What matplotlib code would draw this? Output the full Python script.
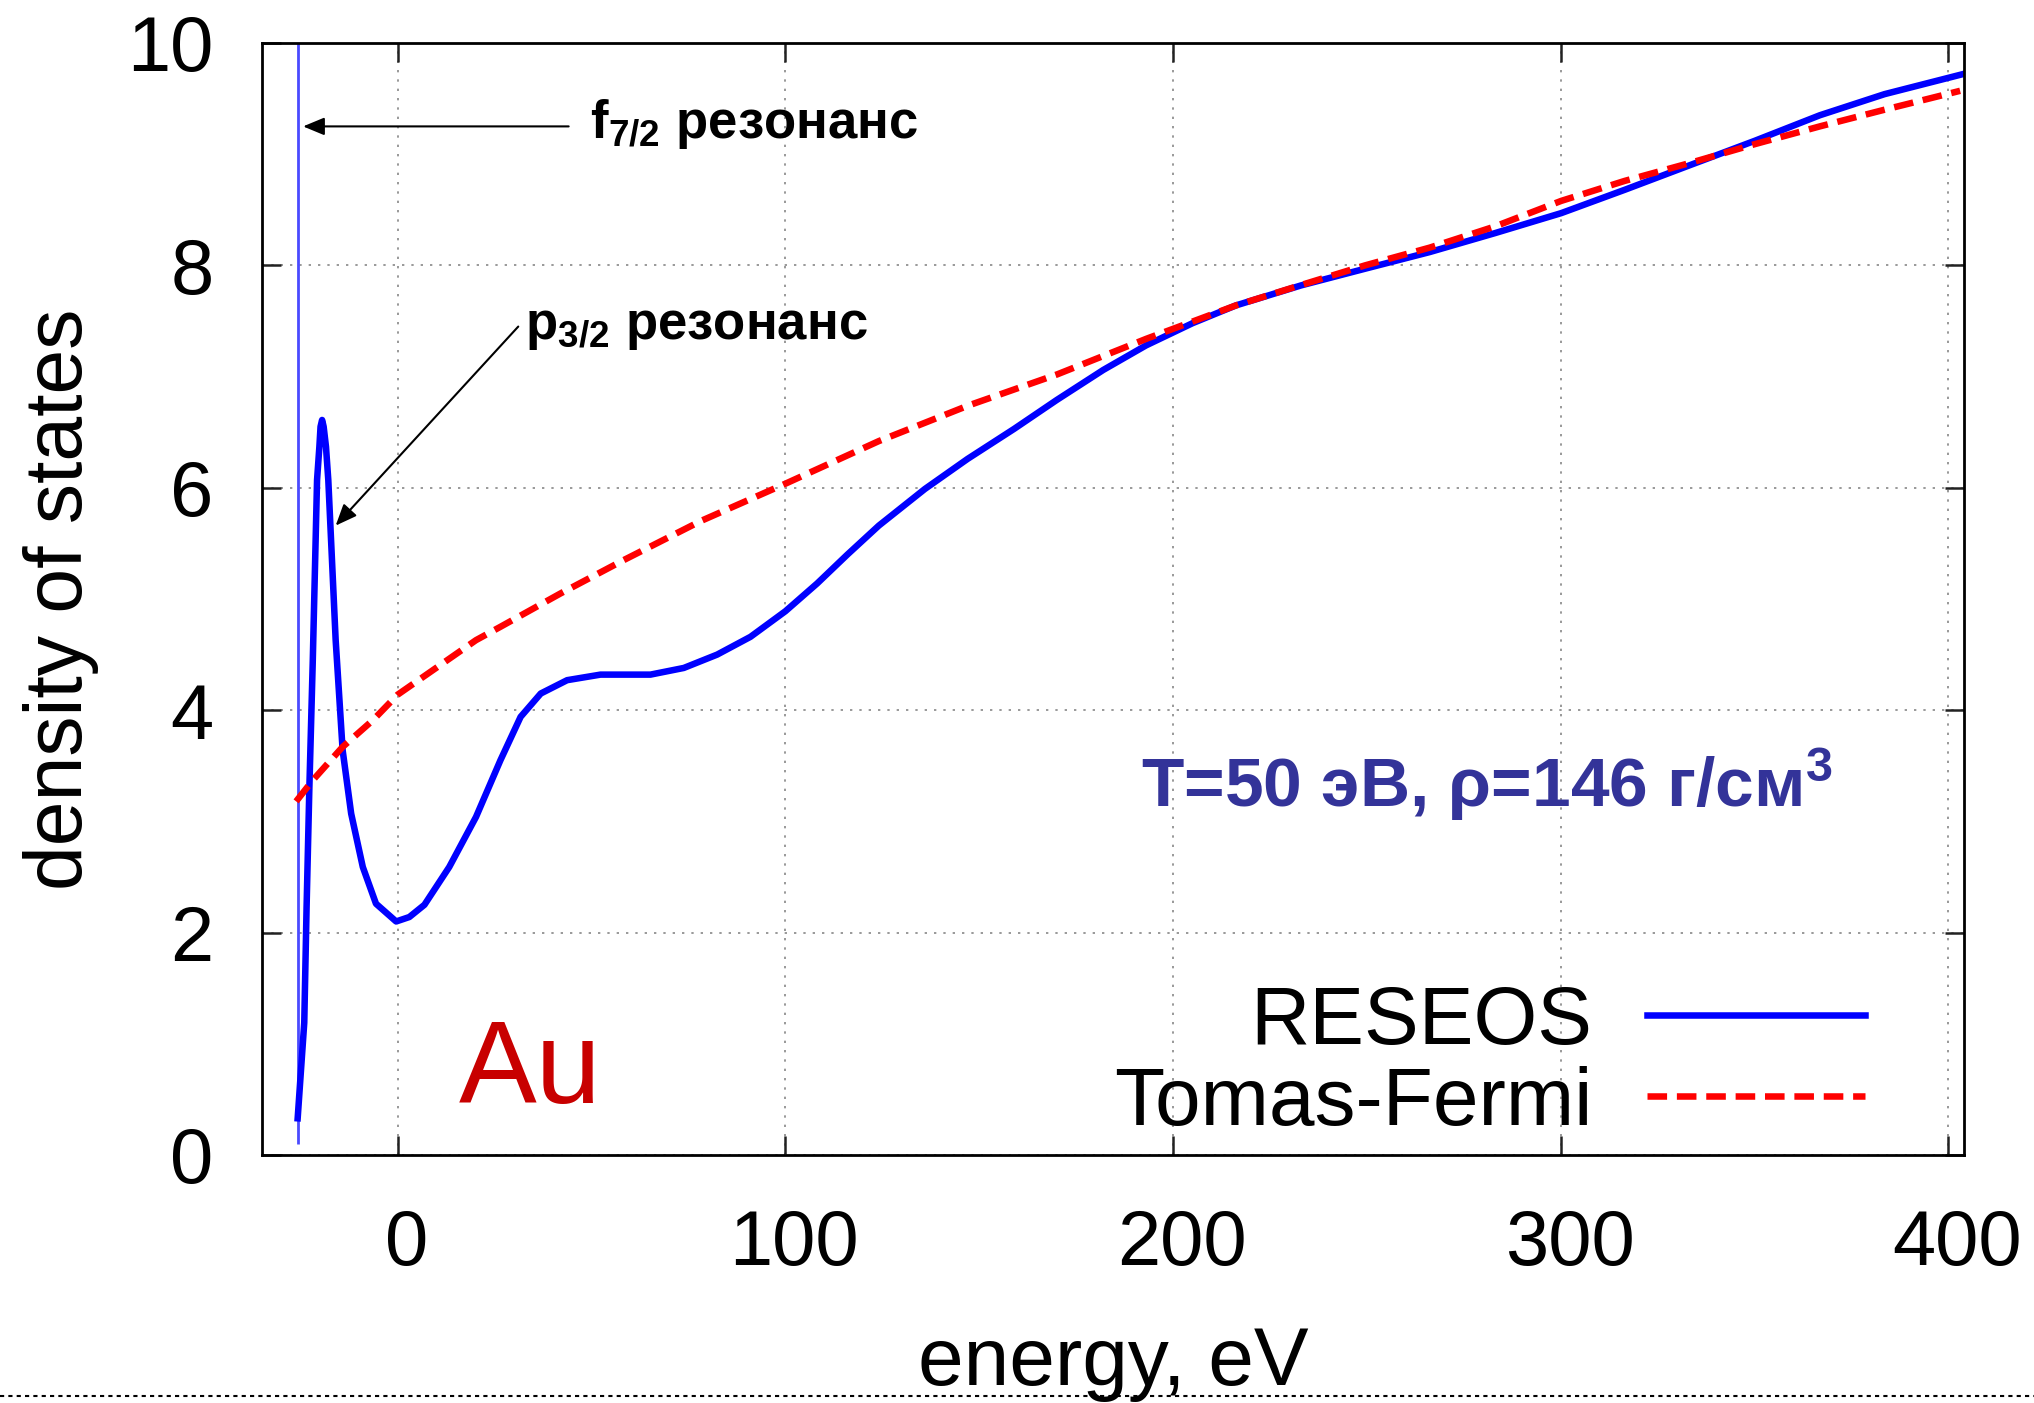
import matplotlib
matplotlib.use('Agg')
import matplotlib.pyplot as plt
from matplotlib.lines import Line2D
from matplotlib.transforms import ScaledTranslation

plt.rcParams['font.family'] = ['Liberation Sans', 'DejaVu Sans']
plt.rcParams['mathtext.default'] = 'regular'

# RESEOS density of states
reseos_e = [-25.8, -24.1, -23.5, -22.8, -21.9, -20.8, -20.2, -19.9, -19.5, -19.1,
            -18.5, -17.9, -16.0, -14.2, -12.0, -9.0, -5.6, -0.4, 3.0, 6.9,
            13.3, 20.2, 26.5, 31.7, 36.9, 43.7, 52.3, 65.2, 73.8, 82.4,
            91.0, 100.0, 108.2, 116.0, 124.1, 136.0, 147.0, 159.0, 170.0, 182.0,
            193.0, 205.0, 216.2, 233.0, 249.5, 266.2, 283.0, 300.1, 316.5, 333.2,
            350.0, 366.8, 383.5, 403.7]
reseos_dos = [0.33, 1.19, 2.23, 3.28, 4.45, 6.07, 6.37, 6.55, 6.61, 6.55,
              6.37, 6.07, 4.63, 3.64, 3.07, 2.59, 2.26, 2.10, 2.14, 2.25,
              2.59, 3.04, 3.55, 3.94, 4.15, 4.27, 4.32, 4.32, 4.38, 4.50,
              4.66, 4.89, 5.14, 5.40, 5.66, 5.99, 6.26, 6.53, 6.79, 7.06,
              7.28, 7.48, 7.64, 7.82, 7.97, 8.12, 8.29, 8.47, 8.68, 8.90,
              9.12, 9.35, 9.54, 9.72]

# very narrow f7/2 resonance
spike_e = [-25.8, -25.8]
spike_dos = [0.1, 10.5]

# Thomas-Fermi
tf_e = [-26.2, -21.9, -14.2, -6.4, 0.0, 9.9, 20.2, 26.5, 42.0, 58.3,
        78.1, 100.2, 124.1, 147.2, 170.1, 193.1, 216.2, 232.7, 249.5, 266.2,
        283.0, 300.1, 316.5, 333.2, 350.0, 366.8, 383.5, 403.0]
tf_dos = [3.18, 3.37, 3.67, 3.91, 4.14, 4.38, 4.63, 4.75, 5.05, 5.35,
          5.70, 6.04, 6.42, 6.74, 7.02, 7.34, 7.64, 7.82, 8.0, 8.16,
          8.35, 8.58, 8.76, 8.92, 9.09, 9.25, 9.40, 9.57]

xticks = [0, 100, 200, 300, 400]
yticks = [0, 2, 4, 6, 8, 10]

fig = plt.figure(figsize=(20.34, 14.03), dpi=100)
ax = fig.add_axes([262/2034, 1-1155/1403, 1702/2034, 1112/1403])

ax.plot(spike_e, spike_dos, color='#4a4aff', lw=2.0, solid_capstyle='butt')
ax.plot(reseos_e, reseos_dos, color='#0000ff', lw=4.7, label='RESEOS',
        solid_joinstyle='round')
ax.plot(tf_e, tf_dos, color='#ff0000', lw=4.7, dashes=(3.0, 1.5),
        dash_capstyle='butt', label='Tomas-Fermi')

ax.set_xlim(-35, 404)
ax.set_ylim(0, 10)
ax.set_xticks(xticks)
ax.set_yticks(yticks)
ax.grid(True, color='#999999', lw=1.4, linestyle=(0, (1.2, 3.6)))
ax.tick_params(direction='in', length=13.5, width=1.8, top=True, right=True,
               labelsize=56, color='#222222')
ax.tick_params(axis='x', pad=38)
ax.tick_params(axis='y', pad=35)
for s in ax.spines.values():
    s.set_linewidth(2.0)

# gnuplot puts the x labels a little right of their ticks
shift = ScaledTranslation(9/100, 0, fig.dpi_scale_trans)
for lab in ax.get_xticklabels():
    lab.set_transform(lab.get_transform() + shift)

ax.set_xlabel('energy, eV', fontsize=59)
ax.xaxis.set_label_coords(0.5, -0.154)
ax.set_ylabel('density of states', fontsize=58)
ax.yaxis.set_label_coords(-0.096, 0.5)

arrow = dict(arrowstyle='-|>,head_length=0.65,head_width=0.27', lw=1.5,
             color='black', shrinkA=0, shrinkB=0, mutation_scale=20)
ax.annotate('', xy=(-24.4, 9.25), xytext=(44.1, 9.25), arrowprops=arrow)
ax.annotate('', xy=(-16.0, 5.66), xytext=(31.1, 7.45), arrowprops=arrow)
ax.text(49.5, 9.15, 'f$_{7/2}$ резонанс', fontsize=38, fontweight='bold',
        va='baseline', ha='left')
ax.text(32.8, 7.34, 'p$_{3/2}$ резонанс', fontsize=38, fontweight='bold',
        va='baseline', ha='left')
ax.text(191.8, 3.13, 'T=50 эВ, ρ=146 г/см$^{3}$', fontsize=50,
        fontweight='bold', color='#333399', va='baseline', ha='left')
ax.text(15.7, 0.47, 'Au', fontsize=84, color='#c80000', va='baseline',
        ha='left')

ax.legend(loc='lower right', bbox_to_anchor=(0.942, 0.012), frameon=False,
          markerfirst=False, fontsize=59, handlelength=2.66, handletextpad=0.67,
          labelspacing=0.06, borderpad=0, borderaxespad=0)

fig.add_artist(Line2D([0, 1], [0.005, 0.005], transform=fig.transFigure,
                      color='black', lw=1.5, linestyle=(0, (2.0, 2.0))))

fig.savefig('out.png', dpi=100)
